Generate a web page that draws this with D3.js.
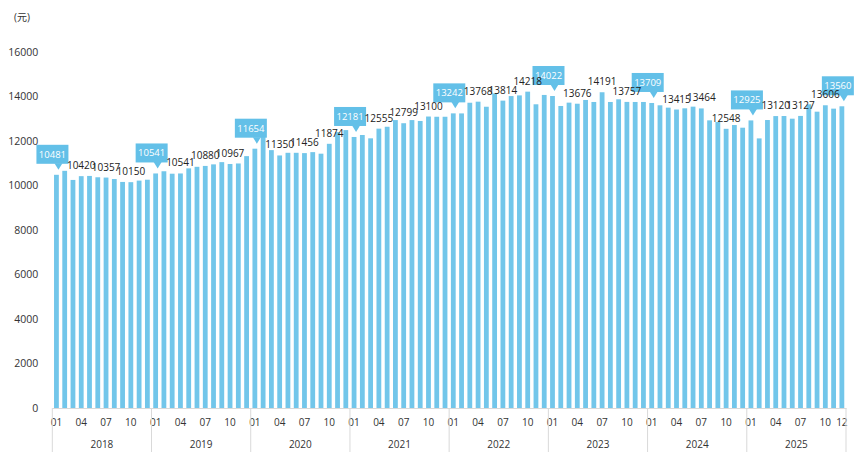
<!DOCTYPE html>
<html>
<head>
<meta charset="utf-8">
<script src="https://cdnjs.cloudflare.com/ajax/libs/d3/7.8.5/d3.min.js"></script>
<style>
  body { margin: 0; background: #fff; }
  svg text { font-family: "Open Sans", "Noto Sans", "Noto Sans CJK SC", sans-serif; }
</style>
</head>
<body>
<div id="chart"></div>
<script>

  // data ====================

  var years = ["2018", "2019", "2020", "2021", "2022", "2023", "2024", "2025"];
  var months = ["01", "02", "03", "04", "05", "06", "07", "08", "09", "10", "11", "12"];

  var wage2018 = [10481, 10660, 10250, 10420, 10430, 10370, 10357, 10290, 10160, 10150, 10220, 10260];
  var wage2019 = [10541, 10640, 10530, 10541, 10770, 10840, 10880, 10950, 11050, 10967, 10990, 11320];
  var wage2020 = [11654, 12350, 11590, 11350, 11470, 11470, 11456, 11500, 11430, 11874, 12400, 12490];
  var wage2021 = [12181, 12270, 12120, 12555, 12640, 12940, 12799, 12940, 12900, 13100, 13090, 13090];
  var wage2022 = [13242, 13240, 13720, 13768, 13540, 14140, 13814, 14020, 14050, 14218, 13650, 14070];
  var wage2023 = [14022, 13574, 13724, 13676, 13844, 13754, 14191, 13754, 13874, 13757, 13754, 13754];
  var wage2024 = [13709, 13604, 13499, 13415, 13469, 13544, 13464, 12928, 12853, 12548, 12718, 12598];
  var wage2025 = [12925, 12117, 12943, 13120, 13123, 13003, 13127, 13649, 13318, 13606, 13454, 13560];
  var wages = [wage2018, wage2019, wage2020, wage2021, wage2022, wage2023, wage2024, wage2025];

  var yTicks = [0, 2000, 4000, 6000, 8000, 10000, 12000, 14000, 16000];
  var monthTicks = ["01", "04", "07", "10"];
  var labelMonths = ["04", "07", "10"];
  var calloutMonths = ["01"];
  var unit = "(元)";

  var data = [];
  years.forEach(function(yr, i) {
    wages[i].forEach(function(v, j) {
      data.push({ key: yr + "-" + months[j], year: yr, month: months[j], value: v });
    });
  });
  var last = data[data.length - 1];

  // chart ====================

  var width = 854;
  var height = 452;
  var plotLeft = 52.3, plotRight = 846, plotTop = 52, plotBase = 408;

  var svg = d3.select('#chart')
    .append('svg')
    .attr('width', width)
    .attr('height', height);

  var x = d3.scaleBand()
    .domain(data.map(function(d) { return d.key; }))
    .range([plotLeft, plotRight])
    .paddingInner(0.42)
    .paddingOuter(0.21);

  var y = d3.scaleLinear()
    .domain([0, 16000])
    .range([plotBase, plotTop]);

  var cx = function(d) { return x(d.key) + x.bandwidth() / 2; };

  // y axis
  var yAxis = svg.append('g')
    .attr('transform', 'translate(' + plotLeft + ',0)')
    .call(d3.axisLeft(y).tickValues(yTicks).tickSize(0).tickPadding(14).tickFormat(d3.format('d')));
  yAxis.select('.domain').remove();
  yAxis.selectAll('text')
    .style('font-size', '10.5px')
    .style('fill', '#333');

  svg.append('text')
    .attr('x', 14)
    .attr('y', 21)
    .style('font-size', '10px')
    .style('fill', '#333')
    .text(unit);

  // x axis (months)
  var tickKeys = data.filter(function(d) { return monthTicks.indexOf(d.month) > -1; })
    .map(function(d) { return d.key; });
  tickKeys.push(last.key);

  var xAxis = svg.append('g')
    .attr('transform', 'translate(0,' + plotBase + ')')
    .call(d3.axisBottom(x).tickValues(tickKeys).tickSize(0).tickPadding(11)
      .tickFormat(function(k) { return k.split('-')[1]; }));
  xAxis.select('.domain')
    .attr('stroke', '#d9d9d9');
  xAxis.selectAll('text')
    .style('font-size', '10px')
    .style('fill', '#333');

  // year separators and labels
  var step = x.step();
  var yearStart = function(yr) { return x(yr + "-01") - step * x.paddingInner() / 2; };
  var edges = years.map(yearStart).concat([plotRight]);

  svg.selectAll('.sep')
    .data(edges)
    .enter()
    .append('line')
    .attr('class', 'sep')
    .attr('x1', function(d) { return d; })
    .attr('x2', function(d) { return d; })
    .attr('y1', plotBase)
    .attr('y2', height)
    .attr('stroke', '#d9d9d9');

  svg.selectAll('.year')
    .data(years)
    .enter()
    .append('text')
    .attr('class', 'year')
    .attr('x', function(d, i) { return (edges[i] + edges[i + 1]) / 2; })
    .attr('y', 448)
    .attr('text-anchor', 'middle')
    .style('font-size', '10px')
    .style('fill', '#333')
    .text(function(d) { return d; });

  // bars
  svg.selectAll('.bar')
    .data(data)
    .enter()
    .append('rect')
    .attr('class', 'bar')
    .attr('x', function(d) { return x(d.key); })
    .attr('y', function(d) { return y(d.value); })
    .attr('width', x.bandwidth())
    .attr('height', function(d) { return plotBase - y(d.value); })
    .style('fill', '#72c6ea');

  // callouts (jan of each year + latest month)
  var calloutData = data.filter(function(d) { return calloutMonths.indexOf(d.month) > -1; });
  calloutData.push(last);

  var callout = svg.selectAll('.callout')
    .data(calloutData)
    .enter()
    .append('g')
    .attr('class', 'callout')
    .attr('transform', function(d) { return 'translate(' + cx(d) + ',' + y(d.value) + ')'; });

  callout.append('rect')
    .attr('x', -20)
    .attr('y', -30)
    .attr('width', 32)
    .attr('height', 19)
    .style('fill', '#63c0e8');

  callout.append('path')
    .attr('d', 'M-2,-11.5L6,-11.5L2,-5Z')
    .style('fill', '#63c0e8');

  callout.append('text')
    .attr('x', -4)
    .attr('y', -20.5)
    .attr('dy', '0.35em')
    .attr('text-anchor', 'middle')
    .style('font-size', '9.5px')
    .style('fill', '#fff')
    .text(function(d) { return d.value; });

  // plain value labels, on top
  svg.selectAll('.lbl')
    .data(data.filter(function(d) { return labelMonths.indexOf(d.month) > -1; }))
    .enter()
    .append('text')
    .attr('class', 'lbl')
    .attr('x', cx)
    .attr('y', function(d) { return y(d.value) - 7; })
    .attr('text-anchor', 'middle')
    .style('font-size', '10px')
    .style('fill', '#222')
    .text(function(d) { return d.value; });

</script>
</body>
</html>
